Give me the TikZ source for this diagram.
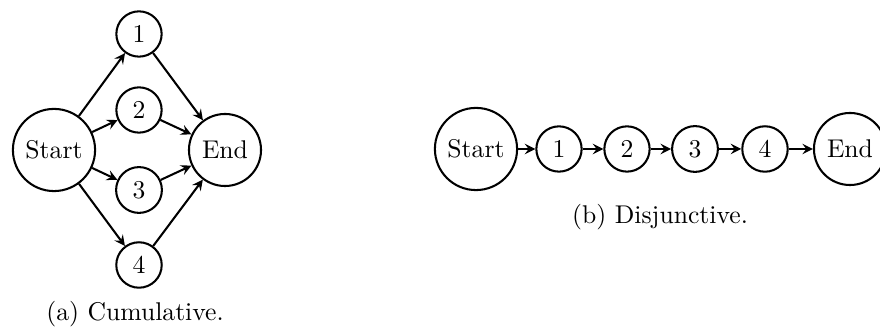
\documentclass[tikz,border=0pt]{standalone}
\usetikzlibrary{arrows,shapes}
\usetikzlibrary{positioning}
\tikzstyle{vertex}=[circle,draw,thick,inner sep=3.33pt]
\tikzstyle{edge} = [draw,thick,->,>=stealth]
\tikzstyle{caption} = [font=\normalsize]

\begin{document}
\begin{tikzpicture}[x=0.39pt,y=-0.39pt]
    \useasboundingbox (0,0) rectangle (880,327);

    % (a) cumulative
    \foreach \pos/\name/\text in {{(54,150)/as/Start}, {(139,34)/a1/1}, {(139,110)/a2/2}, {(139,190)/a3/3}, {(139,265)/a4/4}, {(225,150)/ae/End}}
        \node[vertex] (\name) at \pos {\text};

    \foreach \source/\dest in {as/a1, as/a2, as/a3, as/a4, a1/ae, a2/ae, a3/ae, a4/ae}
        \path[edge] (\source) -- (\dest);

    \node[caption] (capa) at (135,314) {(a) Cumulative.};

    % (b) disjunctive
    \foreach \pos/\name/\text in {{(476,149)/bs/Start}, {(559,149)/b1/1}, {(627,149)/b2/2}, {(695,149)/b3/3}, {(765,149)/b4/4}, {(850,149)/be/End}}
        \node[vertex] (\name) at \pos {\text};

    \foreach \source/\dest in {bs/b1, b1/b2, b2/b3, b3/b4, b4/be}
        \path[edge] (\source) -- (\dest);

    \node[caption] (capb) at (660,217) {(b) Disjunctive.};

\end{tikzpicture}
\end{document}
